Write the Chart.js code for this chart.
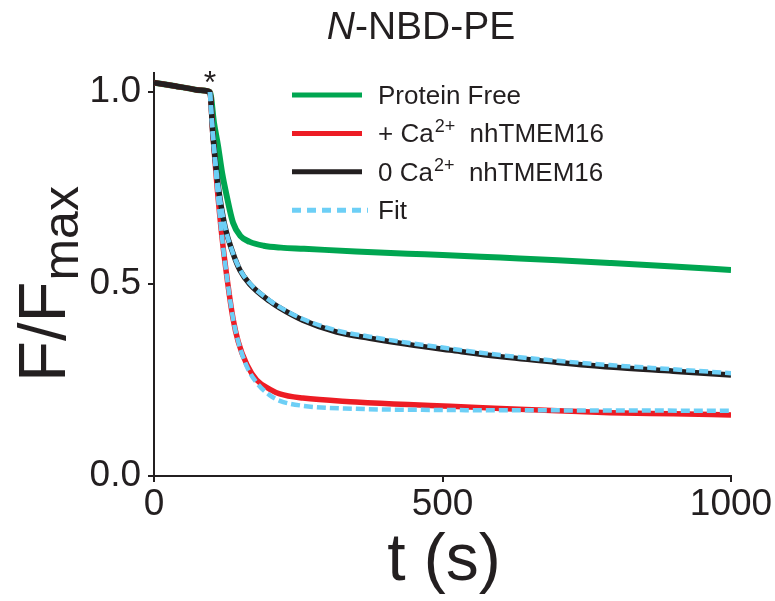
<!DOCTYPE html>
<html lang="en">
<head>
<meta charset="UTF-8">
<title>N-NBD-PE</title>
<script src="https://cdn.jsdelivr.net/npm/chart.js"></script>
<style>
  body { margin: 0; background: #fff; }
</style>
</head>
<body>
<canvas id="nbdChart" width="775" height="601"></canvas>
<script>
const xTicks = [0, 500, 1000];
const yTicks = [0, 0.5, 1.0];
const dithioniteT = 97; // time of addition, marked with *

// protein free liposomes
const freeT = [0, 20, 40, 60, 80, 97, 104, 111, 118, 126, 137, 150, 166, 190, 220, 260, 350, 440, 500, 600, 700, 790, 900, 1000];
const freeF = [1.025, 1.02, 1.015, 1.01, 1.005, 1.0, 0.92, 0.86, 0.79, 0.73, 0.66, 0.625, 0.61, 0.600, 0.595, 0.592, 0.585, 0.579, 0.576, 0.569, 0.562, 0.555, 0.546, 0.537];

// + Ca2+ nhTMEM16
const caT = [0, 20, 40, 60, 80, 97, 102, 109, 118, 128, 137, 146, 161, 178, 201, 218, 258, 350, 440, 513, 600, 700, 790, 900, 1000];
const caF = [1.025, 1.02, 1.015, 1.01, 1.005, 1.0, 0.89, 0.76, 0.62, 0.50, 0.41, 0.35, 0.29, 0.25, 0.226, 0.214, 0.203, 0.193, 0.186, 0.182, 0.176, 0.170, 0.165, 0.162, 0.159];

// 0 Ca2+ nhTMEM16
const noCaT = [0, 20, 40, 60, 80, 97, 102, 111, 123, 137, 149, 166, 201, 218, 258, 317, 374, 440, 513, 600, 700, 790, 900, 1000];
const noCaF = [1.025, 1.02, 1.015, 1.01, 1.005, 1.0, 0.89, 0.76, 0.65, 0.58, 0.536, 0.50, 0.455, 0.438, 0.406, 0.375, 0.359, 0.343, 0.328, 0.311, 0.296, 0.284, 0.273, 0.263];

// fits
const caFitT = [97, 102, 109, 118, 128, 137, 146, 161, 178, 201, 218, 258, 350, 500, 700, 1000];
const caFitF = [1.0, 0.89, 0.76, 0.62, 0.50, 0.41, 0.35, 0.285, 0.243, 0.21, 0.196, 0.183, 0.175, 0.172, 0.171, 0.170];
const noCaFitT = [97, 102, 111, 123, 137, 149, 166, 201, 218, 258, 317, 374, 440, 513, 600, 700, 790, 900, 1000];
const noCaFitF = [1.0, 0.89, 0.76, 0.65, 0.58, 0.538, 0.502, 0.457, 0.44, 0.409, 0.379, 0.363, 0.347, 0.332, 0.315, 0.300, 0.289, 0.278, 0.268];

const INK = '#231f20';
const GREEN = '#00a651';
const RED = '#ed1c24';
const BLUE = '#6dcff6';
const FONT = '"Liberation Sans", Arial, Helvetica, sans-serif';

const pts = (ts, fs) => ts.map((t, i) => ({ x: t, y: fs[i] }));

// legend rows: main text, superscript, rest
const legendRows = [
  { color: GREEN, dash: [], parts: ['Protein Free'] },
  { color: RED, dash: [], parts: ['+ Ca', '2+', '  nhTMEM16'] },
  { color: INK, dash: [], parts: ['0 Ca', '2+', '  nhTMEM16'] },
  { color: BLUE, dash: [9, 6], parts: ['Fit'] }
];

const decor = {
  id: 'decor',
  afterDraw(chart) {
    const ctx = chart.ctx;
    const xs = chart.scales.x;
    ctx.save();
    ctx.fillStyle = INK;
    ctx.textBaseline = 'alphabetic';
    ctx.textAlign = 'left';

    // title with italic N
    ctx.font = 'italic 39px ' + FONT;
    const wN = ctx.measureText('N').width;
    ctx.font = '39px ' + FONT;
    const wRest = ctx.measureText('-NBD-PE').width;
    let tx = 421 - (wN + wRest) / 2;
    ctx.font = 'italic 39px ' + FONT;
    ctx.fillText('N', tx, 39);
    ctx.font = '39px ' + FONT;
    ctx.fillText('-NBD-PE', tx + wN, 39);

    // x axis title
    ctx.font = '66px ' + FONT;
    ctx.textAlign = 'center';
    ctx.fillText('t (s)', 444, 580);

    // y axis title F/Fmax
    ctx.save();
    ctx.translate(65, 382);
    ctx.rotate(-Math.PI / 2);
    ctx.textAlign = 'left';
    ctx.font = '67px ' + FONT;
    ctx.fillText('F/F', 0, 0);
    const wF = ctx.measureText('F/F').width;
    ctx.font = '50px ' + FONT;
    ctx.fillText('max', wF + 1, 13);
    ctx.restore();

    // addition marker
    ctx.font = '32px ' + FONT;
    ctx.textAlign = 'center';
    ctx.fillText('*', xs.getPixelForValue(dithioniteT), 93);

    // legend
    ctx.textAlign = 'left';
    legendRows.forEach((row, i) => {
      const base = 104 + i * 38.4;
      ctx.beginPath();
      ctx.setLineDash(row.dash);
      ctx.lineWidth = 5;
      ctx.strokeStyle = row.color;
      ctx.moveTo(292, base - 9);
      ctx.lineTo(row.dash.length ? 368 : 362, base - 9);
      ctx.stroke();
      ctx.setLineDash([]);
      let lx = 378;
      ctx.font = '26px ' + FONT;
      ctx.fillText(row.parts[0], lx, base);
      lx += ctx.measureText(row.parts[0]).width + 1;
      if (row.parts.length > 1) {
        ctx.font = '18px ' + FONT;
        ctx.fillText(row.parts[1], lx, base - 10);
        lx += ctx.measureText(row.parts[1]).width;
        ctx.font = '26px ' + FONT;
        ctx.fillText(row.parts[2], lx, base);
      }
    });
    ctx.restore();
  }
};

const traceStyle = (color, order, width) => ({
  borderColor: color,
  borderWidth: width,
  pointRadius: 0,
  fill: false,
  cubicInterpolationMode: 'monotone',
  order: order
});

const chart = new Chart(document.getElementById('nbdChart').getContext('2d'), {
  type: 'line',
  data: {
    datasets: [
      Object.assign({ label: 'Protein Free', data: pts(freeT, freeF) }, traceStyle(GREEN, 4, 6)),
      Object.assign({ label: '+ Ca2+ nhTMEM16', data: pts(caT, caF) }, traceStyle(RED, 3, 5.5)),
      Object.assign({ label: '0 Ca2+ nhTMEM16', data: pts(noCaT, noCaF) }, traceStyle(INK, 2, 5.5)),
      Object.assign({ label: 'Fit', data: pts(caFitT, caFitF), borderDash: [9, 4] }, traceStyle(BLUE, 1, 4.5)),
      Object.assign({ label: 'Fit', data: pts(noCaFitT, noCaFitF), borderDash: [9, 4] }, traceStyle(BLUE, 0, 4.5))
    ]
  },
  options: {
    responsive: false,
    animation: false,
    layout: { padding: { top: 73, right: 44, left: 0, bottom: 0 } },
    plugins: { legend: { display: false }, tooltip: { enabled: false } },
    scales: {
      x: {
        type: 'linear',
        min: 0,
        max: 1000,
        afterFit: s => { s.height = 125; },
        afterBuildTicks: s => { s.ticks = xTicks.map(v => ({ value: v })); },
        grid: { drawOnChartArea: false, drawTicks: true, tickLength: 6, color: INK, lineWidth: 2 },
        border: { display: true, color: INK, width: 2 },
        ticks: { color: INK, font: { family: FONT, size: 37 }, padding: 1, maxRotation: 0, callback: v => String(v) }
      },
      y: {
        type: 'linear',
        min: 0,
        max: 1.05,
        afterFit: s => { s.width = 154; },
        afterBuildTicks: s => { s.ticks = yTicks.map(v => ({ value: v })); },
        grid: { drawOnChartArea: false, drawTicks: true, tickLength: 6, color: INK, lineWidth: 2 },
        border: { display: true, color: INK, width: 2 },
        ticks: { color: INK, font: { family: FONT, size: 37 }, padding: 7, callback: v => v.toFixed(1) }
      }
    }
  },
  plugins: [decor]
});
</script>
</body>
</html>
